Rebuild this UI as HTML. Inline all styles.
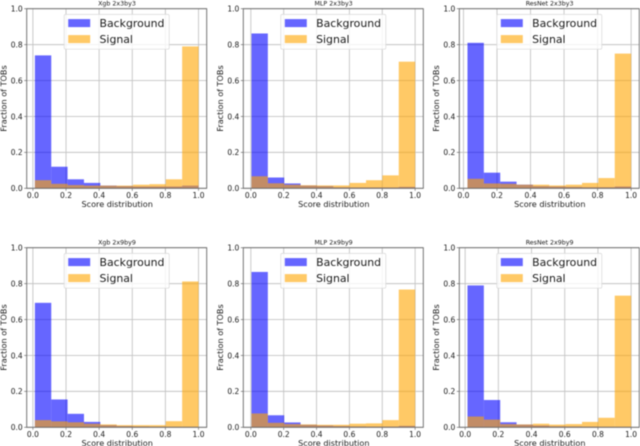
<!DOCTYPE html>
<html>
<head>
<meta charset="utf-8">
<title>Score distributions</title>
<style>
html,body{margin:0;padding:0;background:#fff;width:640px;height:446px;overflow:hidden}
svg{display:block;filter:blur(0.5px)}
text{font-family:"DejaVu Sans","Liberation Sans",sans-serif;fill:#1a1a1a}
</style>
</head>
<body>
<svg id="chart" xmlns="http://www.w3.org/2000/svg" width="640" height="446" viewBox="0 0 640 446"></svg>
<script>
const titles = ['Xgb 2x3by3','MLP 2x3by3','ResNet 2x3by3','Xgb 2x9by9','MLP 2x9by9','ResNet 2x9by9'];
const lowestScore = [0.012,0.004,0.024,0.012,0.004,0.014];
const background1 = [0.74,0.12,0.05,0.03,0.015,0.012,0.01,0.01,0.01,0.015];
const signal1 = [0.045,0.025,0.018,0.015,0.015,0.015,0.02,0.023,0.05,0.79];
const background2 = [0.862,0.06,0.027,0.015,0.012,0.006,0.005,0.005,0.005,0.008];
const signal2 = [0.067,0.028,0.02,0.017,0.016,0.016,0.03,0.045,0.072,0.705];
const background3 = [0.81,0.087,0.037,0.02,0.012,0.01,0.008,0.006,0.006,0.01];
const signal3 = [0.053,0.027,0.025,0.02,0.02,0.016,0.02,0.03,0.057,0.75];
const background4 = [0.693,0.155,0.075,0.03,0.012,0.007,0.005,0.004,0.003,0.003];
const signal4 = [0.04,0.033,0.028,0.02,0.016,0.012,0.012,0.012,0.034,0.812];
const background5 = [0.865,0.067,0.027,0.014,0.01,0.007,0.005,0.004,0.004,0.008];
const signal5 = [0.077,0.025,0.018,0.016,0.014,0.014,0.02,0.022,0.04,0.767];
const background6 = [0.79,0.152,0.028,0.015,0.01,0.006,0.005,0.004,0.003,0.003];
const signal6 = [0.06,0.043,0.018,0.016,0.02,0.015,0.018,0.03,0.053,0.733];
const backgroundSeries = [background1,background2,background3,background4,background5,background6];
const signalSeries = [signal1,signal2,signal3,signal4,signal5,signal6];
const xTicks = ['0.0','0.2','0.4','0.6','0.8','1.0'];
const yTicks = ['0.0','0.2','0.4','0.6','0.8','1.0'];

const svg = document.getElementById('chart');
const NS = 'http://www.w3.org/2000/svg';
const colLeft = [26.7,243.3,459.3];
const rowTop = [8.7,247.7];
const W = 180, H = 179.6;

function make(tag, attrs, parent, txt){
  const e = document.createElementNS(NS, tag);
  for (const k in attrs) e.setAttribute(k, attrs[k]);
  if (txt !== undefined) e.textContent = txt;
  parent.appendChild(e);
  return e;
}

titles.forEach(function(title, p){
  const left = colLeft[p % 3], top = rowTop[Math.floor(p / 3)], bottom = top + H;
  const start = lowestScore[p];
  const span = 1 - start;
  const dMin = start - 0.05 * span, dMax = 1 + 0.05 * span;
  const xs = function(v){ return left + (v - dMin) / (dMax - dMin) * W; };
  const ys = function(v){ return bottom - v * H; };

  const g = make('g', {}, svg);
  
  

  const plotBg = make('rect', {x:left, y:top, width:W, height:H, fill:'#fff'}, g);
  
  

  xTicks.forEach(function(t){
    const x = xs(parseFloat(t));
    const grid = make('line', {x1:x, x2:x, y1:top, y2:bottom, stroke:'#c4c4c4', 'stroke-width':0.9}, g);
    
    
    const tick = make('line', {x1:x, x2:x, y1:bottom, y2:bottom + 2.5, stroke:'#555', 'stroke-width':0.6}, g);
    
    
    const label = make('text', {x:x, y:bottom + 9.8, 'font-size':7.5, 'text-anchor':'middle'}, g, t);
    
    
  });
  yTicks.forEach(function(t){
    const y = ys(parseFloat(t));
    const grid = make('line', {x1:left, x2:left + W, y1:y, y2:y, stroke:'#c4c4c4', 'stroke-width':0.9}, g);
    
    
    const tick = make('line', {x1:left - 2.5, x2:left, y1:y, y2:y, stroke:'#555', 'stroke-width':0.6}, g);
    
    
    const label = make('text', {x:left - 4, y:y + 2.8, 'font-size':7.5, 'text-anchor':'end'}, g, t);
    
    
  });

  const binWidth = span / 10;
  backgroundSeries[p].forEach(function(v, i){
    const x0 = xs(start + i * binWidth), x1 = xs(start + (i + 1) * binWidth);
    const bar = make('rect', {x:x0, y:ys(v), width:x1 - x0, height:bottom - ys(v), fill:'#0000ff', 'fill-opacity':0.6}, g);
    
    
  });
  signalSeries[p].forEach(function(v, i){
    const x0 = xs(start + i * binWidth), x1 = xs(start + (i + 1) * binWidth);
    const bar = make('rect', {x:x0, y:ys(v), width:x1 - x0, height:bottom - ys(v), fill:'#ffa500', 'fill-opacity':0.6}, g);
    
    
  });

  const frame = make('rect', {x:left, y:top, width:W, height:H, fill:'none', stroke:'#666', 'stroke-width':0.9}, g);
  
  

  const titleText = make('text', {x:left + W / 2 + 0.3, y:top - 3.2, 'font-size':6.3, 'text-anchor':'middle'}, g, title);
  
  

  const xTitle = make('text', {x:left + W / 2 + 0.5, y:bottom + 18.6, 'font-size':8.1, 'text-anchor':'middle'}, g, 'Score distribution');
  
  

  const yx = left - 20.3, yy = top + H / 2;
  const yTitle = make('text', {x:yx, y:yy, 'font-size':8.1, 'text-anchor':'middle', transform:'rotate(-90 ' + yx + ' ' + yy + ')'}, g, 'Fraction of TOBs');
  
  

  const lx = left + 37.5, ly = top + 5.7;
  const legend = make('g', {}, g);
  
  

  const box = make('rect', {x:lx, y:ly, width:105, height:34.8, rx:1.5, fill:'#fff', 'fill-opacity':0.8, stroke:'#d8d8d8', 'stroke-width':0.7}, legend);
  
  

  const swatchBg = make('rect', {x:lx + 4, y:ly + 4.7, width:22, height:8, fill:'#0000ff', 'fill-opacity':0.6}, legend);
  
  

  const swatchSig = make('rect', {x:lx + 4, y:ly + 20.7, width:22, height:8, fill:'#ffa500', 'fill-opacity':0.6}, legend);
  
  

  const textBg = make('text', {x:lx + 35.3, y:ly + 12.8, 'font-size':10.9}, legend, 'Background');
  
  

  const textSig = make('text', {x:lx + 35.3, y:ly + 28.8, 'font-size':10.9}, legend, 'Signal');
  
  
});
</script>
</body>
</html>
